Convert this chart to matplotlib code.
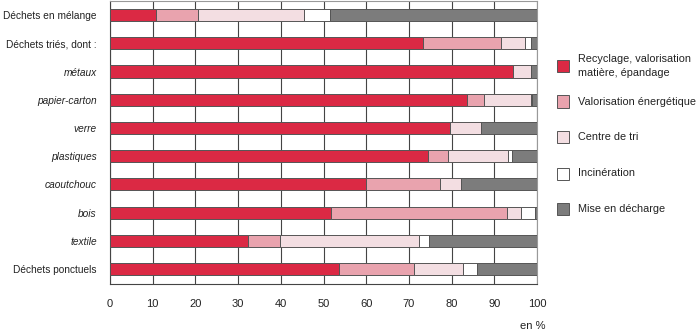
import matplotlib
matplotlib.use("Agg")
import matplotlib.pyplot as plt
from matplotlib.patches import Rectangle
import numpy as np

plt.rcParams['font.family'] = ['Liberation Sans', 'DejaVu Sans']

categories = ["Déchets en mélange", "Déchets triés, dont :", "métaux", "papier-carton",
              "verre", "plastiques", "caoutchouc", "bois", "textile", "Déchets ponctuels"]
italic_rows = [False, False, True, True, True, True, True, True, True, False]

series_names = ["Recyclage, valorisation\nmatière, épandage", "Valorisation énergétique",
                "Centre de tri", "Incinération", "Mise en décharge"]

recyclage   = [10.7, 73.4, 94.3, 83.6, 79.6, 74.4, 60.0, 51.8, 32.3, 53.7]
energetique = [10.0, 18.1,  0.0,  3.9,  0.0,  4.7, 17.3, 41.1,  7.4, 17.4]
centre_tri  = [24.8,  5.6,  4.4, 11.0,  7.2, 14.2,  4.8,  3.3, 32.7, 11.6]
incineration = [6.1,  1.4,  0.0,  0.3,  0.0,  0.8,  0.0,  3.4,  2.2,  3.2]
decharge    = [48.4,  1.5,  1.3,  1.2, 13.2,  5.9, 17.9,  0.4, 25.4, 14.1]

colors = ["#db2944", "#e9a3ae", "#f3dee2", "#ffffff", "#7c7c7c"]
edge = "#555555"

series = [recyclage, energetique, centre_tri, incineration, decharge]

fig = plt.figure(figsize=(7.0, 3.31), dpi=100)
ax = fig.add_axes([110 / 700, 1 - 284 / 331, 427 / 700, 283 / 331])

y = np.arange(len(categories))
left = np.zeros(len(categories))
for vals, col in zip(series, colors):
    vals = np.array(vals)
    ax.barh(y, vals, left=left, height=0.43, color=col, edgecolor=edge, linewidth=0.7, zorder=3)
    left += vals

ax.set_xlim(0, 100)
ax.set_ylim(len(categories) - 0.47, -0.5)
ax.set_xticks(np.arange(0, 101, 10))
ax.xaxis.grid(True, color="#444444", linewidth=0.8, zorder=0)
ax.tick_params(axis="x", length=0, pad=11, labelsize=8, colors="#222222")
ax.tick_params(axis="y", length=0, pad=9.5, colors="#222222")
ax.set_yticks(y)
ax.set_yticklabels(categories, fontsize=7.3)
for lbl, it in zip(ax.get_yticklabels(), italic_rows):
    if it:
        lbl.set_fontstyle("italic")

for side in ["top", "right"]:
    ax.spines[side].set_color("#999999")
    ax.spines[side].set_linewidth(0.8)
ax.spines["left"].set_color("#444444")
ax.spines["bottom"].set_color("#444444")
ax.spines["left"].set_linewidth(0.8)
ax.spines["bottom"].set_linewidth(0.8)

fig.text(533 / 700, 1 - 326 / 331, "en %", ha="center", va="center", fontsize=8, color="#222222")

# legend drawn as boxes with labels
leg_y = [66, 101.5, 137, 173.5, 209]
for name, col, yy in zip(series_names, colors, leg_y):
    w, h = 12 / 700, 12 / 331
    fig.patches.append(Rectangle((557 / 700, 1 - (yy + 6) / 331), w, h,
                                 transform=fig.transFigure, facecolor=col,
                                 edgecolor=edge, linewidth=0.7))
    fig.text(578 / 700, 1 - yy / 331, name, ha="left", va="center",
             fontsize=7.8, color="#222222", linespacing=1.4)

fig.savefig("out.png", dpi=100)
